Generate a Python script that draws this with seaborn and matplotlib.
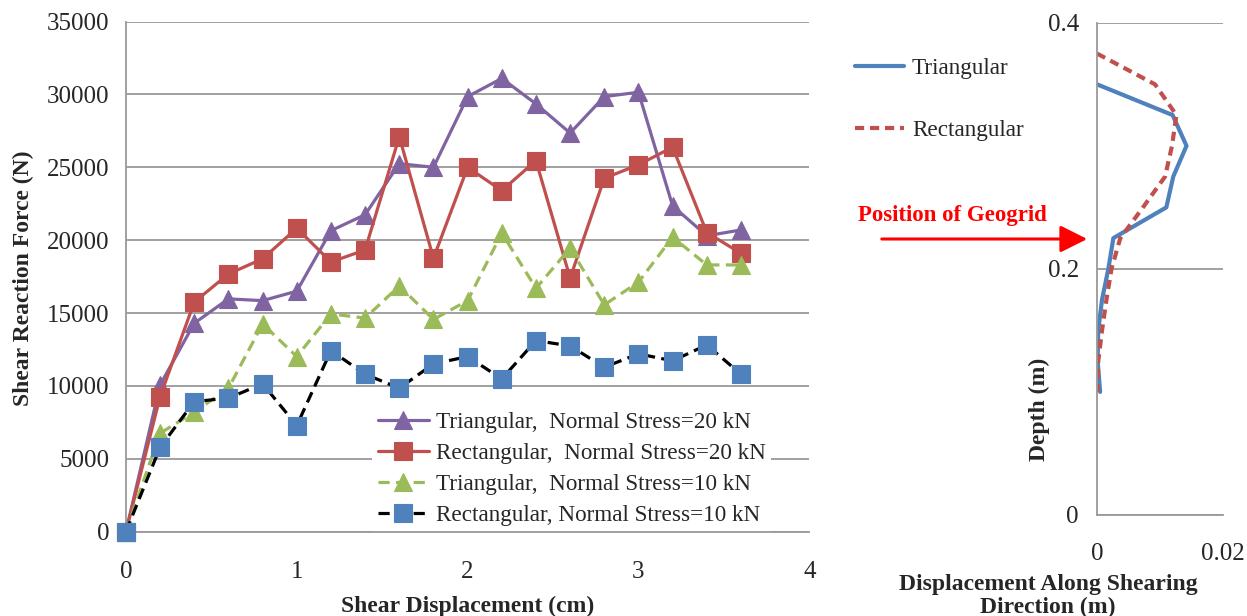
import numpy as np
import pandas as pd
import matplotlib.pyplot as plt
import seaborn as sns

# --- data ---
shear_disp = [0, 0.2, 0.4, 0.6, 0.8, 1.0, 1.2, 1.4, 1.6, 1.8,
              2.0, 2.2, 2.4, 2.6, 2.8, 3.0, 3.2, 3.4, 3.6]
tri_20 = [0, 10070, 14300, 15970, 15850, 16500, 20650, 21750, 25250, 25000,
          29850, 31100, 29350, 27350, 29850, 30150, 22350, 20300, 20700]
rect_20 = [0, 9270, 15750, 17680, 18720, 20820, 18500, 19330, 27100, 18760,
           25000, 23400, 25460, 17400, 24250, 25170, 26380, 20520, 19100]
tri_10 = [0, 6750, 8200, 9840, 14250, 12010, 14940, 14650, 16860, 14560,
          15850, 20480, 16700, 19450, 15560, 17120, 20200, 18300, 18300]
rect_10 = [0, 5790, 8920, 9160, 10140, 7280, 12420, 10800, 9840, 11510,
           12010, 10480, 13110, 12740, 11280, 12200, 11720, 12810, 10800]

series_labels = ["Triangular,  Normal Stress=20 kN",
                 "Rectangular,  Normal Stress=20 kN",
                 "Triangular,  Normal Stress=10 kN",
                 "Rectangular, Normal Stress=10 kN"]

depth_tri = [0.35, 0.325, 0.3, 0.275, 0.25, 0.225, 0.2, 0.175, 0.15, 0.125, 0.1]
disp_tri = [0.0, 0.012, 0.0142, 0.0121, 0.011, 0.0026, 0.0018, 0.0008, 0.0002, 0.0001, 0.0005]
depth_rect = [0.375, 0.35, 0.325, 0.3, 0.275, 0.25, 0.225, 0.2, 0.175, 0.15, 0.125, 0.1]
disp_rect = [0.0, 0.0092, 0.0126, 0.0119, 0.0108, 0.0073, 0.0037, 0.0023, 0.0015, 0.0008, 0.0002, 0.0001]

sns.set_style("white")
plt.rcParams['font.family'] = ['Liberation Serif', 'DejaVu Serif']

grid_c = '#999999'
fig = plt.figure(figsize=(12.47, 6.16), dpi=100)

# --- left chart: shear force vs displacement ---
ax = fig.add_axes([0.101, 0.137, 0.548, 0.828])
styles = [
    dict(color='#8064A2', marker='^', linestyle='-', mfc='#8064A2', mec='#8064A2'),
    dict(color='#C0504D', marker='s', linestyle='-', mfc='#C0504D', mec='#C0504D'),
    dict(color='#9BBB59', marker='^', linestyle=(0, (3.5, 2)), mfc='#9BBB59', mec='#9BBB59'),
    dict(color='black', marker='s', linestyle=(0, (3.5, 2)), mfc='#4F81BD', mec='#4F81BD'),
]
for yv, lab, st in zip([tri_20, rect_20, tri_10, rect_10], series_labels, styles):
    sns.lineplot(x=shear_disp, y=yv, ax=ax, label=lab, lw=2.3, markersize=12.5,
                 markeredgewidth=0.8, color=st['color'], marker=st['marker'],
                 linestyle=st['linestyle'], mfc=st['mfc'], mec=st['mec'],
                 estimator=None, sort=False, clip_on=False, zorder=3)

ax.set_xlim(0, 4)
ax.set_ylim(0, 35000)
ax.set_xticks([0, 1, 2, 3, 4])
ax.set_yticks(np.arange(0, 35001, 5000))
ax.yaxis.grid(True, color=grid_c, lw=1.3)
ax.set_axisbelow(True)
for s in ['top', 'right']:
    ax.spines[s].set_visible(False)
for s in ['left', 'bottom']:
    ax.spines[s].set_color(grid_c)
    ax.spines[s].set_linewidth(1.3)
ax.tick_params(axis='x', direction='out', length=6, width=1.2, color=grid_c,
               labelsize=18, pad=15)
ax.tick_params(axis='y', direction='out', length=6, width=1.2, color=grid_c,
               labelsize=18, pad=6)
ax.set_xlabel("Shear Displacement (cm)", fontsize=17, fontweight='bold')
ax.set_ylabel("Shear Reaction Force (N)", fontsize=17, fontweight='bold')
ax.xaxis.set_label_coords(0.5, -0.125)
ax.yaxis.set_label_coords(-0.135, 0.497)
leg = ax.legend(loc='lower left', bbox_to_anchor=(0.36, 0.0), fontsize=16.7,
                frameon=True, framealpha=1, facecolor='white', edgecolor='none',
                handlelength=2.2, handletextpad=0.3, labelspacing=0.42,
                borderpad=0.25, borderaxespad=0, numpoints=1, fancybox=False)
leg.set_zorder(2)

# --- right chart: displacement profile vs depth ---
ax2 = fig.add_axes([0.8797, 0.164, 0.1011, 0.799])
sns.lineplot(x=disp_tri, y=depth_tri, ax=ax2, sort=False, estimator=None,
             color='#4F81BD', lw=3, label='Triangular', orient='y')
sns.lineplot(x=disp_rect, y=depth_rect, ax=ax2, sort=False, estimator=None,
             color='#C0504D', lw=3, linestyle=(0, (2.2, 1.4)), label='Rectangular', orient='y')
ax2.set_xlim(0, 0.02)
ax2.set_ylim(0, 0.4)
ax2.set_xticks([0, 0.02])
ax2.set_xticklabels(['0', '0.02'])
ax2.set_yticks([0, 0.2, 0.4])
ax2.set_yticklabels(['0', '0.2', '0.4'])
ax2.yaxis.grid(True, color=grid_c, lw=1.3)
ax2.set_axisbelow(True)
for s in ['top', 'right']:
    ax2.spines[s].set_visible(False)
for s in ['left', 'bottom']:
    ax2.spines[s].set_color(grid_c)
    ax2.spines[s].set_linewidth(1.3)
ax2.tick_params(axis='both', direction='out', length=7, width=1.2, color=grid_c,
                labelsize=18)
ax2.tick_params(axis='x', pad=13)
ax2.tick_params(axis='y', pad=6)
ax2.set_ylabel("Depth (m)", fontsize=17, fontweight='bold')
ax2.yaxis.set_label_coords(-0.37, 0.215)
ax2.set_xlabel("")
h, l = ax2.get_legend_handles_labels()
ax2.get_legend().remove()
fig.legend(h, l, loc='upper left', bbox_to_anchor=(0.669, 0.94), fontsize=16.7,
           frameon=False, handlelength=2.1, handletextpad=0.35, labelspacing=1.75)
fig.text(1048 / 1247, 1 - 574 / 616, "Displacement Along Shearing\nDirection (m)",
         ha='center', va='top', fontsize=17, fontweight='bold', linespacing=1.1)

fig.text(858 / 1247, 1 - 215 / 616, "Position of Geogrid", color='red',
         fontsize=16.5, fontweight='bold', ha='left', va='center')
fig.patches.append(plt.matplotlib.patches.FancyArrowPatch(
    (879 / 1247, 1 - 239 / 616), (1090 / 1247, 1 - 239 / 616),
    transform=fig.transFigure, arrowstyle='-|>,head_length=1.1,head_width=0.55',
    mutation_scale=15, color='red', lw=2.2))

fig.savefig('out.png', dpi=100)
